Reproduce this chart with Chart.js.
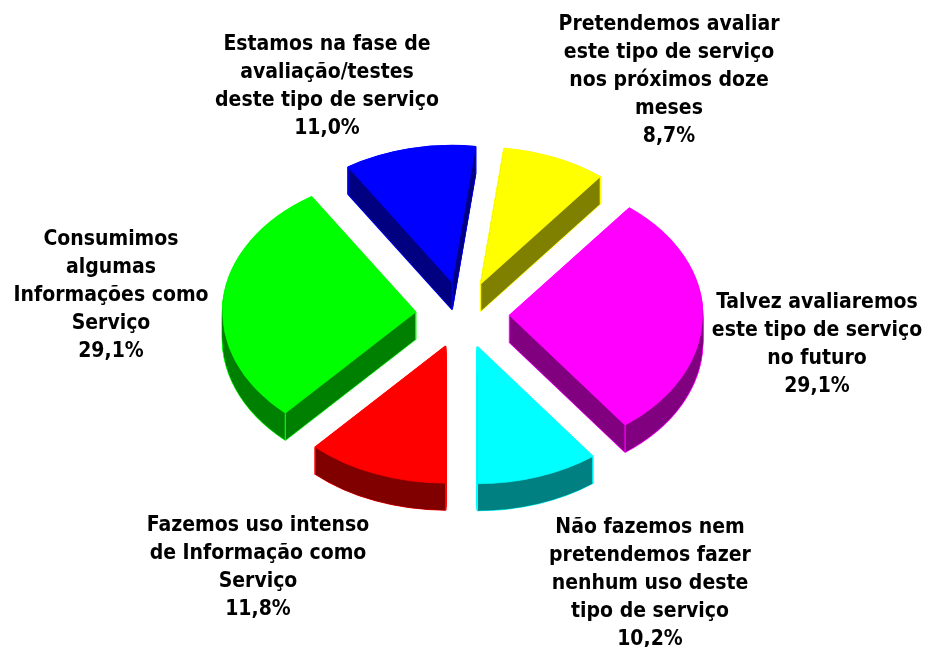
<!DOCTYPE html>
<html>
<head>
<meta charset="utf-8">
<script src="https://cdn.jsdelivr.net/npm/chart.js@4"></script>
<style>
  html, body { margin: 0; padding: 0; background: #fff; }
  #wrap { width: 925px; height: 647px; }
</style>
</head>
<body>
<div id="wrap"><canvas id="chart"></canvas></div>
<script>
// Values, clockwise from the yellow slice
const categories = [
  ['Pretendemos avaliar', 'este tipo de serviço', 'nos próximos doze', 'meses'],
  ['Talvez avaliaremos', 'este tipo de serviço', 'no futuro'],
  ['Não fazemos nem', 'pretendemos fazer', 'nenhum uso deste', 'tipo de serviço'],
  ['Fazemos uso intenso', 'de Informação como', 'Serviço'],
  ['Consumimos', 'algumas', 'Informações como', 'Serviço'],
  ['Estamos na fase de', 'avaliação/testes', 'deste tipo de serviço']
];
const values = [8.7, 29.1, 10.2, 11.8, 29.1, 11.0];
const faceColors = ['#ffff00', '#ff00ff', '#00ffff', '#ff0000', '#00ff00', '#0000ff'];
const sideColors = ['#808000', '#800080', '#008080', '#800000', '#008000', '#000080'];

// Layout of the labels: centre x and y of the first line
const labelAnchors = [[669, 25], [817, 303], [650, 528], [258, 526], [111, 240], [327, 45]];
const lineHeight = 27.8;

const squash = 0.71;   // tilt of the pie
const depth = 27;      // thickness in px
const explode = 47;    // how far each slice is pulled out

const fakePie3d = {
  id: 'fakePie3d',
  beforeDatasetDraw(chart, args) {
    const ctx = chart.ctx;
    const arcs = chart.getDatasetMeta(args.index).data;

    // Places a slice on the tilted plane, dropped by d px
    const place = (arc, d) => {
      const mid = (arc.startAngle + arc.endAngle) / 2;
      ctx.translate(arc.x, arc.y + d);
      ctx.scale(1, squash);
      ctx.translate(explode * Math.cos(mid), explode * Math.sin(mid));
      ctx.translate(-arc.x, -arc.y);
    };
    const drawAs = (arc, d, fill, stroke, width) => {
      const saved = arc.options;
      arc.options = Object.assign({}, saved, { backgroundColor: fill, borderColor: stroke, borderWidth: width });
      ctx.save();
      place(arc, d);
      arc.draw(ctx);
      ctx.restore();
      arc.options = saved;
    };

    arcs.forEach((arc, i) => {
      // bright outline of the whole extrusion, then the dark side over it
      for (let d = depth; d >= 0; d--) drawAs(arc, d, faceColors[i], faceColors[i], 1.6);
      for (let d = depth; d >= 1; d--) drawAs(arc, d, sideColors[i], sideColors[i], 0);

      // vertical seams at the apex and the two outer corners
      const mid = (arc.startAngle + arc.endAngle) / 2;
      const ox = arc.x + explode * Math.cos(mid);
      const oy = arc.y + explode * Math.sin(mid) * squash;
      const r = arc.outerRadius;
      const corners = [
        [ox, oy],
        [ox + r * Math.cos(arc.startAngle), oy + r * Math.sin(arc.startAngle) * squash],
        [ox + r * Math.cos(arc.endAngle), oy + r * Math.sin(arc.endAngle) * squash]
      ];
      ctx.save();
      ctx.strokeStyle = faceColors[i];
      ctx.lineWidth = 1.2;
      corners.forEach(c => {
        ctx.beginPath();
        ctx.moveTo(c[0], c[1]);
        ctx.lineTo(c[0], c[1] + depth);
        ctx.stroke();
      });
      ctx.restore();

      drawAs(arc, 0, faceColors[i], faceColors[i], 0.8);
    });
    return false;
  },
  afterDraw(chart) {
    const ctx = chart.ctx;
    ctx.save();
    ctx.fillStyle = '#000';
    ctx.font = 'bold 21px "DejaVu Sans Condensed", "DejaVu Sans"';
    ctx.textAlign = 'center';
    ctx.textBaseline = 'middle';
    categories.forEach((lines, i) => {
      const pct = values[i].toFixed(1).replace('.', ',') + '%';
      lines.concat(pct).forEach((line, n) => {
        ctx.fillText(line, labelAnchors[i][0], labelAnchors[i][1] + n * lineHeight);
      });
    });
    ctx.restore();
  }
};

new Chart(document.getElementById('chart'), {
  type: 'pie',
  data: {
    labels: categories.map(c => c.join(' ')),
    datasets: [{
      data: values,
      backgroundColor: faceColors,
      borderColor: faceColors,
      borderWidth: 0,
      radius: 193
    }]
  },
  options: {
    responsive: true,
    maintainAspectRatio: false,
    animation: false,
    rotation: 7,
    layout: { padding: { bottom: 17 } },
    plugins: {
      legend: { display: false },
      tooltip: { enabled: false }
    }
  },
  plugins: [fakePie3d]
});
</script>
</body>
</html>
